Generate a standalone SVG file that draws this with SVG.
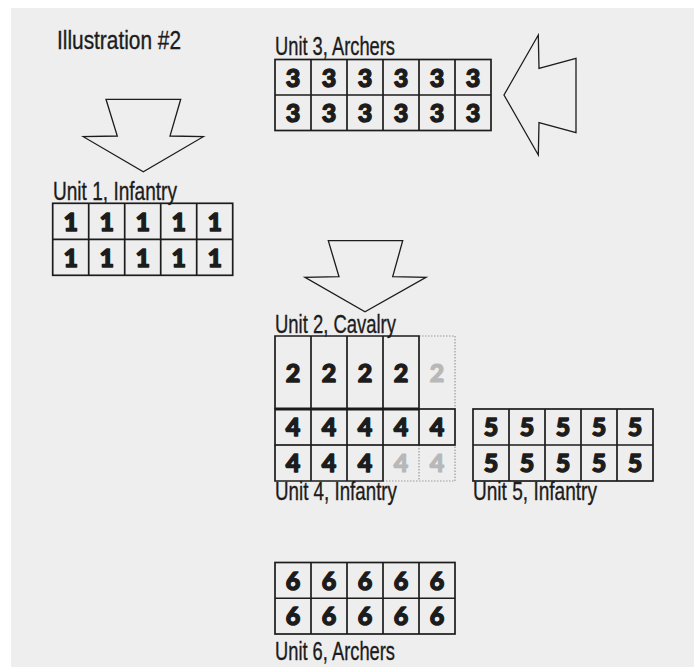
<svg xmlns="http://www.w3.org/2000/svg" width="694" height="667" viewBox="0 0 694 667">
<style>
.c{fill:none;stroke:#1c1c1c;stroke-width:1.7}
.g{fill:none;stroke:#9a9a9a;stroke-width:1.2;stroke-dasharray:1.5 1.5}
.n{font-family:Lato,"DejaVu Sans",sans-serif;font-weight:900;font-size:25px;fill:#1c1c1c;stroke:#1c1c1c;stroke-width:1.4;stroke-linejoin:round;text-anchor:middle}
.ng{font-family:Lato,"DejaVu Sans",sans-serif;font-weight:900;font-size:25px;fill:#b8b8b8;stroke:#b8b8b8;stroke-width:1.2;stroke-linejoin:round;text-anchor:middle}
.l{font-family:"Liberation Sans",Arial,sans-serif;font-size:25px;fill:#1c1c1c;stroke:#1c1c1c;stroke-width:0.35}
.a{fill:none;stroke:#1c1c1c;stroke-width:1.3;stroke-linejoin:miter}
</style>
<rect width="694" height="667" fill="#ffffff"/>
<rect x="11" y="8" width="683" height="659" fill="#eeeeee"/>
<text class="l" x="57" y="49" textLength="124" lengthAdjust="spacingAndGlyphs">Illustration #2</text>

<g id="connectors">
<polygon class="a" points="106,99.3 180.7,99.3 170,136 203.3,136.7 143.3,171.7 83.3,136.7 117.3,136"/>
<polygon class="a" points="328.3,240.7 402.7,240.7 392.7,276.7 426,277.3 365,311.7 305,277.3 339,276.7"/>
<polygon class="a" points="538.3,35 539,68.3 576,58.3 576,132.7 539,122.7 538.3,155 504,95"/>
</g>

<g id="unit3">
<text class="l" x="275" y="55" textLength="120" lengthAdjust="spacingAndGlyphs">Unit 3, Archers</text>
<rect class="c" x="275" y="59.5" width="216" height="71"/>
<path class="c" d="M275,95H491M311,59.5V130.5M347,59.5V130.5M383,59.5V130.5M419,59.5V130.5M455,59.5V130.5"/>
<g class="n">
<text x="293" y="86.5">3</text><text x="329" y="86.5">3</text><text x="365" y="86.5">3</text><text x="401" y="86.5">3</text><text x="437" y="86.5">3</text><text x="473" y="86.5">3</text>
<text x="293" y="122">3</text><text x="329" y="122">3</text><text x="365" y="122">3</text><text x="401" y="122">3</text><text x="437" y="122">3</text><text x="473" y="122">3</text>
</g>
</g>

<g id="unit1">
<text class="l" x="53" y="200" textLength="124" lengthAdjust="spacingAndGlyphs">Unit 1, Infantry</text>
<rect class="c" x="52.7" y="203.3" width="180" height="72"/>
<path class="c" d="M52.7,239.3H232.7M88.7,203.3V275.3M124.7,203.3V275.3M160.7,203.3V275.3M196.7,203.3V275.3"/>
<g class="n">
<text x="70.7" y="230.5">1</text><text x="106.7" y="230.5">1</text><text x="142.7" y="230.5">1</text><text x="178.7" y="230.5">1</text><text x="214.7" y="230.5">1</text>
<text x="70.7" y="266.5">1</text><text x="106.7" y="266.5">1</text><text x="142.7" y="266.5">1</text><text x="178.7" y="266.5">1</text><text x="214.7" y="266.5">1</text>
</g>
</g>

<g id="unit2">
<text class="l" x="275" y="333" textLength="121" lengthAdjust="spacingAndGlyphs">Unit 2, Cavalry</text>
<path class="g" d="M419,336H455V409"/>
<path class="c" d="M275,409V336H419V409M311,336V409M347,336V409M383,336V409"/>
<path fill="none" stroke="#1c1c1c" stroke-width="2.8" d="M275,409H419"/>
<g class="n">
<text x="293" y="381.5">2</text><text x="329" y="381.5">2</text><text x="365" y="381.5">2</text><text x="401" y="381.5">2</text>
</g>
<text class="ng" x="437" y="381.5">2</text>
</g>

<g id="unit4">
<text class="l" x="275" y="500" textLength="122" lengthAdjust="spacingAndGlyphs">Unit 4, Infantry</text>
<path class="g" d="M383,481H455V445M419,445V481"/>
<rect class="c" x="275" y="409" width="180" height="36"/>
<path class="c" d="M275,445V481H383V409M311,409V481M347,409V481M419,409V445"/>
<g class="n">
<text x="293" y="436">4</text><text x="329" y="436">4</text><text x="365" y="436">4</text><text x="401" y="436">4</text><text x="437" y="436">4</text>
<text x="293" y="472">4</text><text x="329" y="472">4</text><text x="365" y="472">4</text>
</g>
<text class="ng" x="401" y="472">4</text><text class="ng" x="437" y="472">4</text>
</g>

<g id="unit5">
<text class="l" x="473" y="500" textLength="124" lengthAdjust="spacingAndGlyphs">Unit 5, Infantry</text>
<rect class="c" x="473" y="409" width="180" height="72"/>
<path class="c" d="M473,445H653M509,409V481M545,409V481M581,409V481M617,409V481"/>
<g class="n">
<text x="491" y="436">5</text><text x="527" y="436">5</text><text x="563" y="436">5</text><text x="599" y="436">5</text><text x="635" y="436">5</text>
<text x="491" y="472">5</text><text x="527" y="472">5</text><text x="563" y="472">5</text><text x="599" y="472">5</text><text x="635" y="472">5</text>
</g>
</g>

<g id="unit6">
<text class="l" x="275" y="660" textLength="120" lengthAdjust="spacingAndGlyphs">Unit 6, Archers</text>
<rect class="c" x="275" y="562.5" width="180" height="71.5"/>
<path class="c" d="M275,598.25H455M311,562.5V634M347,562.5V634M383,562.5V634M419,562.5V634"/>
<g class="n">
<text x="293" y="589.5">6</text><text x="329" y="589.5">6</text><text x="365" y="589.5">6</text><text x="401" y="589.5">6</text><text x="437" y="589.5">6</text>
<text x="293" y="625.2">6</text><text x="329" y="625.2">6</text><text x="365" y="625.2">6</text><text x="401" y="625.2">6</text><text x="437" y="625.2">6</text>
</g>
</g>
</svg>
